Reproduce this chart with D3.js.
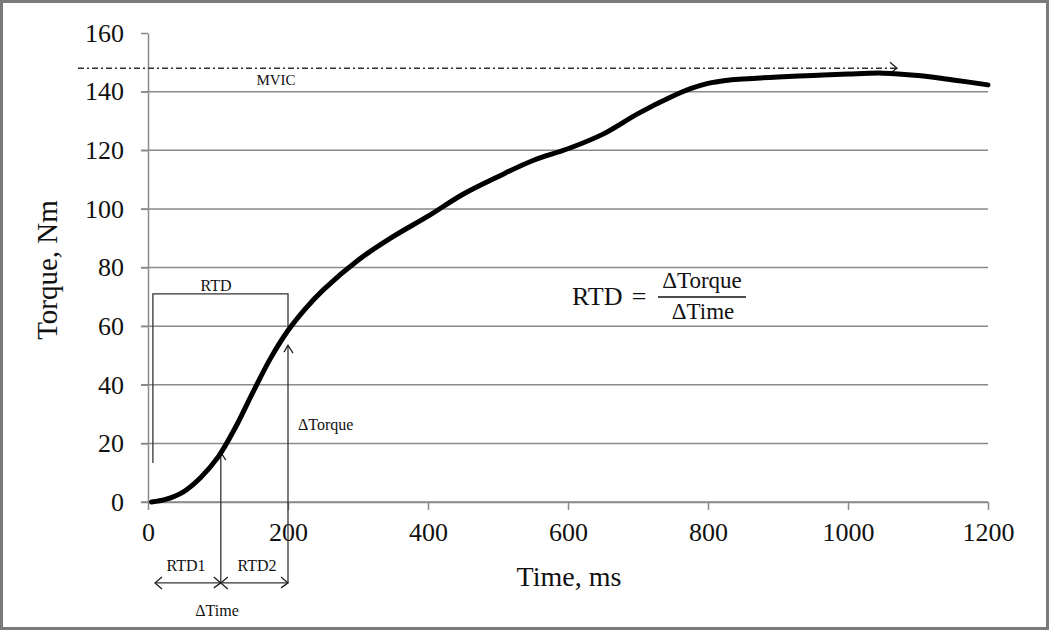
<!DOCTYPE html>
<html>
<head>
<meta charset="utf-8">
<script src="https://cdn.jsdelivr.net/npm/d3@7"></script>
<style>
  html, body { margin: 0; padding: 0; background: #fff; }
  svg { display: block; }
  text { font-family: "Liberation Serif", "Times New Roman", serif; fill: #111; }
</style>
</head>
<body>
<svg id="chart" width="1050" height="631"></svg>
<script>
// ---- data ----
const timeMs = [5, 25, 50, 75, 100, 125, 150, 175, 200, 225, 250, 300, 350, 400, 450, 500, 550, 600, 650, 700, 750, 775, 800, 825, 850, 900, 950, 1000, 1050, 1100, 1150, 1200];
const torqueNm = [0, 0.9, 3.4, 8.3, 15.3, 25.5, 37.5, 49, 58.5, 66, 72.3, 82.5, 90.5, 97.5, 105, 111, 116.5, 120.5, 125.5, 132.5, 138.5, 141, 142.8, 143.8, 144.3, 145, 145.5, 146, 146.3, 145.5, 144, 142.3];
const xTicks = [0, 200, 400, 600, 800, 1000, 1200];
const yTicks = [0, 20, 40, 60, 80, 100, 120, 140, 160];
const gridValues = [0, 20, 40, 60, 80, 100, 120, 140];
const mvicValue = 148;             // Nm
const mvicSpan = [-100, 1070];     // ms
const rtdWindows = [10, 104, 200]; // ms: start, RTD1/RTD2 boundary, end
const rtdBracket = { t0: 7, t1: 200, top: 71, leftBottom: 13.3, rightBottom: 60 };
const arrowTips = [17, 53.5];      // Nm where vertical markers meet curve
const arrowBottom = -27.6;         // Nm (below axis)

// ---- layout ----
const svg = d3.select("#chart");
const x = d3.scaleLinear().domain([0, 1200]).range([148, 988]);
const y = d3.scaleLinear().domain([0, 160]).range([502, 33]);
const gridColor = "#8a8a8a";

// frame
svg.append("rect").attr("x", 1.5).attr("y", 1.5).attr("width", 1046).attr("height", 627)
  .attr("fill", "none").attr("stroke", "#7a7a7a").attr("stroke-width", 3);

// gridlines
svg.append("g").selectAll("line").data(gridValues).join("line")
  .attr("x1", 141).attr("x2", x(1200))
  .attr("y1", d => y(d)).attr("y2", d => y(d))
  .attr("stroke", gridColor).attr("stroke-width", 1.5);

// y axis
const yAxis = svg.append("g").attr("transform", `translate(${x(0)},0)`)
  .call(d3.axisLeft(y).tickValues(yTicks).tickFormat(d3.format("d")).tickSize(7).tickPadding(17).tickSizeOuter(0));
yAxis.attr("font-family", null);
yAxis.select(".domain").attr("stroke", gridColor).attr("stroke-width", 1.5);
yAxis.selectAll(".tick line").attr("stroke", gridColor).attr("stroke-width", 1.5);
yAxis.selectAll(".tick text").attr("font-size", 26).attr("fill", "#111");

// x axis
const xAxis = svg.append("g").attr("transform", `translate(0,${y(0)})`)
  .call(d3.axisBottom(x).tickValues(xTicks).tickFormat(d3.format("d")).tickSize(8).tickPadding(13).tickSizeOuter(0));
xAxis.attr("font-family", null);
xAxis.select(".domain").attr("stroke", gridColor).attr("stroke-width", 1.5);
xAxis.selectAll(".tick line").attr("stroke", gridColor).attr("stroke-width", 1.5);
xAxis.selectAll(".tick text").attr("font-size", 26).attr("fill", "#111");

// axis titles
svg.append("text").attr("x", 569).attr("y", 586).attr("text-anchor", "middle")
  .attr("font-size", 28).text("Time, ms");
svg.append("text").attr("transform", "translate(57,270) rotate(-90)").attr("text-anchor", "middle")
  .attr("font-size", 29).text("Torque, Nm");

// MVIC line
const ink = "#222";
svg.append("line").attr("x1", x(mvicSpan[0])).attr("x2", x(mvicSpan[1]))
  .attr("y1", y(mvicValue)).attr("y2", y(mvicValue))
  .attr("stroke", "#333").attr("stroke-width", 1.5).attr("stroke-dasharray", "6,3,2,3");
function chevron(tx, ty, dir) {
  let p;
  if (dir === "right") p = `M${tx - 7},${ty - 6} L${tx},${ty} L${tx - 7},${ty + 5}`;
  else if (dir === "left") p = `M${tx + 7},${ty - 6} L${tx},${ty} L${tx + 7},${ty + 6}`;
  else p = `M${tx - 4},${ty + 7} L${tx},${ty} L${tx + 5},${ty + 8}`;
  svg.append("path").attr("d", p).attr("fill", "none").attr("stroke", ink).attr("stroke-width", 1.3);
}
chevron(x(mvicSpan[1]), y(mvicValue), "right");
svg.append("text").attr("x", 276).attr("y", 85).attr("text-anchor", "middle")
  .attr("font-size", 15).text("MVIC");

// RTD bracket
const b = rtdBracket;
svg.append("path")
  .attr("d", `M${x(b.t0)},${y(b.leftBottom)} L${x(b.t0)},${y(b.top)} L${x(b.t1)},${y(b.top)} L${x(b.t1)},${y(b.rightBottom)}`)
  .attr("fill", "none").attr("stroke", "#333").attr("stroke-width", 1.3);
svg.append("text").attr("x", 216).attr("y", 291).attr("text-anchor", "middle")
  .attr("font-size", 16).text("RTD");

// vertical markers with arrow tips at curve
[rtdWindows[1], rtdWindows[2]].forEach((t, i) => {
  svg.append("line").attr("x1", x(t)).attr("x2", x(t))
    .attr("y1", y(arrowTips[i])).attr("y2", y(arrowBottom))
    .attr("stroke", "#333").attr("stroke-width", 1.3);
  chevron(x(t), y(arrowTips[i]), "up");
});

// curve
const line = d3.line().x((d, i) => x(timeMs[i])).y(d => y(d)).curve(d3.curveCatmullRom.alpha(0.5));
svg.append("path").datum(torqueNm).attr("d", line)
  .attr("fill", "none").attr("stroke", "#000").attr("stroke-width", 5).attr("stroke-linecap", "round");

// double arrows below axis
const arrY = y(arrowBottom);
for (let i = 0; i < 2; i++) {
  const a = x(rtdWindows[i]), c = x(rtdWindows[i + 1]);
  svg.append("line").attr("x1", a).attr("x2", c).attr("y1", arrY).attr("y2", arrY)
    .attr("stroke", "#333").attr("stroke-width", 1.3);
  chevron(a, arrY, "left");
  chevron(c, arrY, "right");
}
svg.append("text").attr("x", 186).attr("y", 571).attr("text-anchor", "middle").attr("font-size", 16).text("RTD1");
svg.append("text").attr("x", 257).attr("y", 571).attr("text-anchor", "middle").attr("font-size", 16).text("RTD2");
svg.append("text").attr("x", 217).attr("y", 616).attr("text-anchor", "middle").attr("font-size", 16).text("ΔTime");
svg.append("text").attr("x", 298).attr("y", 430).attr("font-size", 16).text("ΔTorque");

// formula
svg.append("text").attr("x", 572).attr("y", 305).attr("font-size", 26).text("RTD");
svg.append("text").attr("x", 639).attr("y", 305).attr("text-anchor", "middle").attr("font-size", 26).text("=");
svg.append("text").attr("x", 702).attr("y", 288).attr("text-anchor", "middle").attr("font-size", 23).text("ΔTorque");
svg.append("line").attr("x1", 658).attr("x2", 746).attr("y1", 297).attr("y2", 297)
  .attr("stroke", "#111").attr("stroke-width", 1.3);
svg.append("text").attr("x", 703).attr("y", 319).attr("text-anchor", "middle").attr("font-size", 23).text("ΔTime");
</script>
</body>
</html>
